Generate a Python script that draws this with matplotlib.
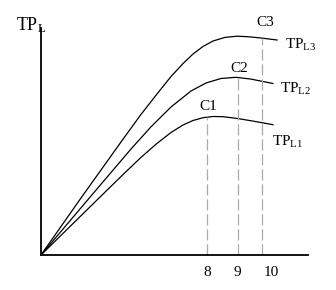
import numpy as np
import matplotlib.pyplot as plt

plt.rcParams['font.family'] = 'Liberation Serif'
plt.rcParams['mathtext.fontset'] = 'custom'
plt.rcParams['mathtext.rm'] = 'Liberation Serif'
plt.rcParams['mathtext.it'] = 'Liberation Serif'

# curves (x, y in axis units, origin at the corner)
x1 = [0, 56, 84, 100, 115, 130, 142, 152, 162, 172, 182, 196, 212, 232]
y1 = [0, 55, 82.4, 97.6, 110.8, 122.5, 130, 134.5, 137.3, 138.5, 138.3, 136.6, 133.9, 130.3]
x2 = [0, 50, 90, 110, 130, 150, 165, 180, 195, 210, 232]
y2 = [0, 59, 106, 128.2, 148, 164, 172, 176.5, 177.7, 175.9, 171.5]
x3 = [0, 40, 80, 100, 116, 130, 142, 152, 162, 172, 184, 196, 208, 220, 236]
y3 = [0, 57, 113, 140.6, 161, 178.5, 191.4, 201, 208.5, 214, 217.6, 218.8, 218.2, 217, 215]

line_x = [166, 197, 221]
line_top = [138, 177, 217]
peak_names = ['C1', 'C2', 'C3']
tick_labels = ['8', '9', '10']
curve_names = [r'$\mathrm{TP_{L1}}$', r'$\mathrm{TP_{L2}}$', r'$\mathrm{TP_{L3}}$']

fig = plt.figure(figsize=(3.36, 2.90), dpi=100)
ax = fig.add_axes([41/336, 35/290, 267/336, 227/290])
ax.set_xlim(0, 267)
ax.set_ylim(0, 227)

for xs, ys in [(x1, y1), (x2, y2), (x3, y3)]:
    ax.plot(xs, ys, color='black', lw=0.9)

for px, py in zip(line_x, line_top):
    ax.plot([px, px], [0, py], color='#aaaaaa', lw=0.9, dashes=(9, 3))

ax.spines['top'].set_visible(False)
ax.spines['right'].set_visible(False)
ax.spines['left'].set_linewidth(1.3)
ax.spines['bottom'].set_linewidth(1.3)
ax.set_xticks([])
ax.set_yticks([])

# labels
name_off = [(1, 148), (1, 187), (3, 232)]
for px, (dx, ty), name in zip(line_x, name_off, peak_names):
    ax.text(px + dx, ty, name, fontsize=11, ha='center', va='center', clip_on=False)

tick_off = [0, -1, 9]
for px, lab, d in zip(line_x, tick_labels, tick_off):
    ax.text(px + d, -17, lab, fontsize=11, ha='center', va='center', clip_on=False)

curve_pos = [(231, 113), (239, 166), (244, 210)]
for (cx, cy), name in zip(curve_pos, curve_names):
    ax.text(cx, cy, name, fontsize=11, ha='left', va='center', clip_on=False)

ax.text(-25, 230, r'$\mathrm{TP_L}$', fontsize=13, ha='left', va='center', clip_on=False)

fig.savefig('out.png', dpi=100)
